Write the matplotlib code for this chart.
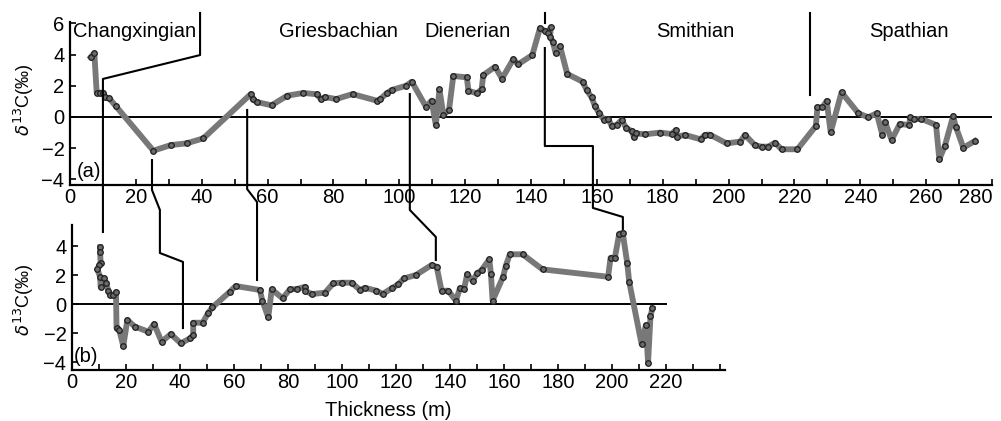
"""
Carbon isotope curves of two sections, (a) and (b), with the stage names
and the tie lines drawn between them
"""

import matplotlib
matplotlib.use("Agg")
import matplotlib.pyplot as plt
from matplotlib.ticker import MultipleLocator

plt.rcParams['font.family'] = ['Liberation Sans', 'DejaVu Sans']

# section (a): thickness (m) and d13C (permil)
THICK_A = [6.3, 7.4, 8.1, 9.1, 10.1, 10.6, 11.9, 13.9, 25.3, 30.6, 35.4, 40.5,
           54.9, 55.5, 56.7, 61.2, 66.0, 70.9, 74.9, 76.2, 77.4, 80.8, 85.8,
           93.1, 94.1, 96.2, 97.7, 102.0, 103.8, 108.1, 109.8, 111.1, 112.2,
           113.4, 115.1, 116.4, 120.5, 121.0, 123.5, 125.0, 125.5, 129.1,
           131.2, 134.6, 136.1, 140.4, 142.7, 144.2, 145.3, 146.0, 145.8,
           146.6, 147.5, 148.8, 151.0, 155.7, 156.9, 158.4, 159.4, 160.7,
           162.2, 163.5, 164.5, 166.0, 167.5, 169.0, 170.6, 171.3, 171.9,
           174.6, 179.2, 182.7, 184.0, 184.2, 186.8, 191.5, 192.8, 194.3,
           199.4, 203.5, 205.0, 208.0, 210.0, 212.0, 214.1, 216.1, 220.9,
           226.5, 227.0, 228.5, 229.8, 231.0, 234.3, 239.4, 242.4, 245.0,
           246.7, 247.5, 249.5, 252.0, 254.9, 255.1, 256.4, 258.4, 263.0,
           264.0, 265.7, 268.2, 269.0, 271.3, 274.8]
D13C_A = [3.83, 4.09, 1.56, 1.56, 1.56, 1.26, 1.2, 0.7, -2.16, -1.8, -1.69,
          -1.37, 1.47, 1.13, 0.96, 0.75, 1.37, 1.54, 1.46, 1.15, 1.28, 1.15,
          1.47, 1.05, 1.13, 1.52, 1.73, 2.0, 2.26, 0.66, 1.05, -0.51, 1.77,
          0.13, 0.45, 2.63, 2.54, 1.69, 1.52, 1.77, 2.69, 3.22, 2.46, 3.7,
          3.38, 3.97, 5.68, 5.53, 5.4, 5.75, 5.15, 4.83, 4.08, 4.55, 2.76,
          2.26, 1.73, 1.26, 0.71, 0.24, -0.19, -0.13, -0.58, -0.51, -0.19,
          -0.73, -0.9, -1.3, -1.05, -1.11, -1.0, -1.09, -0.83, -1.26, -1.15,
          -1.43, -1.15, -1.13, -1.69, -1.58, -1.15, -1.81, -1.9, -1.9, -1.65,
          -2.07, -2.07, -0.58, 0.62, 0.62, 1.03, -0.98, 1.58, 0.24, -0.02,
          0.24, -1.15, -0.3, -1.47, -0.45, -0.51, -0.02, -0.15, -0.11, -0.51,
          -2.71, -1.84, 0.06, -0.62, -1.97, -1.54]

# section (b)
THICK_B = [10.4, 10.4, 10.6, 10.1, 9.4, 10.4, 10.6, 11.9, 12.6, 13.5, 14.1,
           15.3, 16.3, 16.5, 17.5, 19.0, 20.5, 23.3, 28.3, 30.4, 33.2, 36.6,
           40.3, 43.7, 44.9, 44.9, 48.4, 50.5, 52.0, 58.5, 60.6, 69.6, 70.5,
           72.7, 74.0, 78.0, 80.7, 83.2, 86.3, 86.3, 88.8, 93.7, 96.8, 99.9,
           103.6, 106.7, 108.5, 112.8, 115.1, 118.4, 120.9, 123.0, 127.4,
           133.2, 135.1, 136.9, 139.4, 142.2, 143.7, 145.2, 146.4, 148.4,
           150.1, 151.7, 154.6, 155.2, 155.8, 159.7, 160.7, 162.2, 166.9,
           174.3, 198.6, 199.5, 201.1, 202.7, 204.0, 205.7, 206.4, 211.0,
           212.6, 213.4, 214.3, 215.0]
D13C_B = [3.91, 3.61, 2.85, 2.69, 2.39, 1.88, 1.2, 1.77, 1.42, 0.92, 0.62,
          0.62, 0.83, -1.68, -1.79, -2.9, -1.1, -1.56, -1.91, -1.38, -2.6,
          -2.07, -2.71, -2.37, -2.14, -1.29, -1.29, -0.6, -0.23, 0.85, 1.24,
          0.97, 0.23, -0.92, 1.01, 0.39, 1.01, 1.03, 1.19, 0.92, 0.69, 0.78,
          1.43, 1.47, 1.47, 0.97, 1.12, 0.92, 0.69, 1.08, 1.36, 1.77, 2.0,
          2.69, 2.57, 0.92, 0.92, 0.23, 1.08, 1.01, 2.05, 1.59, 2.12, 2.34,
          3.08, 2.05, 0.23, 1.88, 2.64, 3.43, 3.43, 2.39, 1.88, 3.19, 3.19,
          4.83, 4.92, 2.8, 1.54, -2.76, -1.45, -4.05, -0.83, -0.3]

STAGES = ["Changxingian", "Griesbachian", "Dienerian", "Smithian", "Spathian"]
STAGE_X = [0.8, 81.4, 120.6, 190, 254.8]

# tie lines, given in the thickness / d13C units of section (a)
TIE_LINES = [
    [(39.5, 6.67), (39.5, 3.97), (10.0, 2.44), (10.0, -7.37)],
    [(24.9, -2.76), (24.9, -4.68), (27.3, -5.96), (27.3, -8.72),
     (34.3, -9.29), (34.3, -13.53)],
    [(53.8, 0.45), (53.8, -4.62), (56.8, -5.45), (56.8, -10.45)],
    [(103.2, 1.47), (103.2, -5.96), (111.1, -7.69), (111.1, -9.17)],
    [(144.2, 4.42), (144.2, -1.86), (158.8, -1.86), (158.8, -5.83),
     (167.9, -6.41), (167.9, -7.24)],
    [(144.2, 6.67), (144.2, 6.03)],
    [(224.7, 6.67), (224.7, 1.41)],
]

W, H = 1001, 421
FS = 14.5


def style_axis(ax, xmax, yticks):
    ax.spines['top'].set_visible(False)
    ax.spines['right'].set_visible(False)
    ax.spines['left'].set_linewidth(1.6)
    ax.spines['bottom'].set_linewidth(1.6)
    ax.set_xticks(range(0, xmax + 1, 20))
    ax.xaxis.set_minor_locator(MultipleLocator(10))
    ax.set_yticks(yticks)
    ax.tick_params(which='both', direction='in', length=4, width=1.2,
                   labelsize=FS, pad=2)
    ax.tick_params(axis='y', pad=4)
    ax.patch.set_alpha(0)


def draw_curve(ax, x, y):
    ax.plot(x, y, color='#787878', lw=4.2, solid_joinstyle='round', zorder=3)
    ax.plot(x, y, ls='none', marker='o', ms=4, mfc='#6a6a6a', mec='#1e1e1e',
            mew=0.9, zorder=4)


fig = plt.figure(figsize=(W / 100, H / 100), dpi=100)

ax_a = fig.add_axes([70 / W, (H - 185) / H, (992 - 70) / W, (185 - 22) / H])
ax_a.set_xlim(0, 280)
ax_a.set_ylim(-4.36, 6.09)
style_axis(ax_a, 280, [-4, -2, 0, 2, 4, 6])
for lab in ax_a.get_xticklabels():
    if lab.get_text() == '280':
        lab.set_horizontalalignment('right')
ax_a.axhline(0, color='black', lw=1.4, zorder=2)
draw_curve(ax_a, THICK_A, D13C_A)
for name, x in zip(STAGES, STAGE_X):
    ax_a.text(x, 5.45, name, fontsize=FS, va='center',
              ha='left' if x < 10 else 'center')
ax_a.text(2.0, -3.5, "(a)", fontsize=FS, va='center')

ax_b = fig.add_axes([72 / W, (H - 370) / H, (725 - 72) / W, (370 - 225) / H])
ax_b.set_xlim(0, 241.9)
ax_b.set_ylim(-4.55, 5.45)
style_axis(ax_b, 220, [-4, -2, 0, 2, 4])
ax_b.plot([0, 220], [0, 0], color='black', lw=1.4, zorder=2)
draw_curve(ax_b, THICK_B, D13C_B)
ax_b.text(0.8, -3.65, "(b)", fontsize=FS, va='center')

for line in TIE_LINES:
    xs, ys = zip(*line)
    ax_a.plot(xs, ys, color='black', lw=1.5, clip_on=False, zorder=5)

ylab = r'$\delta^{13}$C(‰)'
fig.text(24 / W, (H - 100) / H, ylab, rotation=90, fontsize=13,
         ha='center', va='center')
fig.text(24 / W, (H - 300) / H, ylab, rotation=90, fontsize=13,
         ha='center', va='center')
fig.text(388 / W, (H - 410) / H, "Thickness (m)", fontsize=FS,
         ha='center', va='center')

fig.savefig("out.png", dpi=100)
